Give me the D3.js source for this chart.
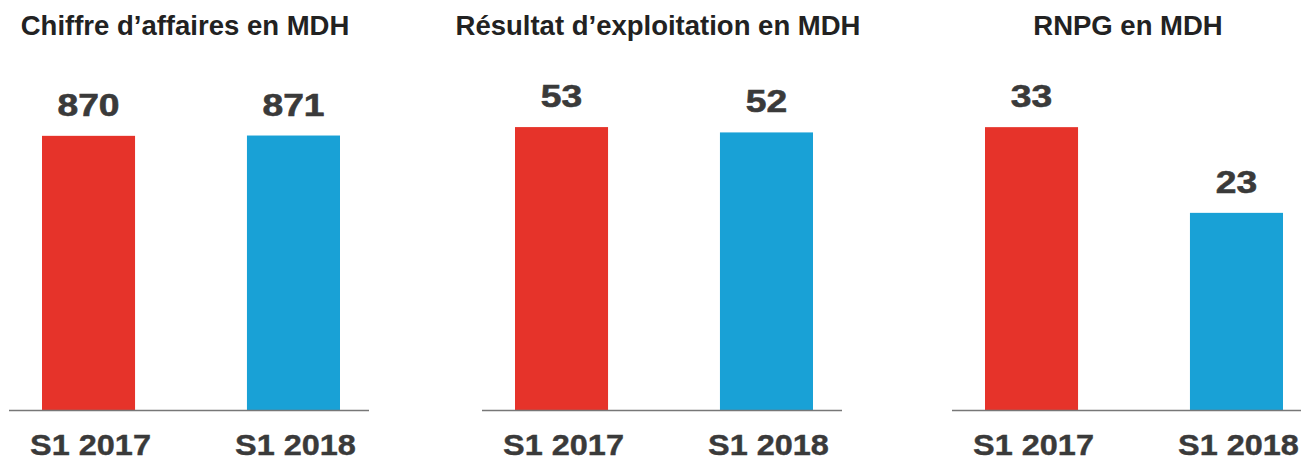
<!DOCTYPE html>
<html>
<head>
<meta charset="utf-8">
<script src="https://cdn.jsdelivr.net/npm/d3@7"></script>
<style>
  body { margin: 0; background: #fff; }
  text { font-family: "Liberation Sans", Arial, sans-serif; font-weight: bold; }
</style>
</head>
<body>
<script>
// data
const titles = ["Chiffre d\u2019affaires en MDH", "R\u00e9sultat d\u2019exploitation en MDH", "RNPG en MDH"];
const periods = ["S1 2017", "S1 2018"];
const values2017 = [870, 53, 33];
const values2018 = [871, 52, 23];
const scaleMax = [952, 56.2, 35];   // top of each panel's value scale
const colors = ["#e6332a", "#19a1d6"];

const width = 1301;
const height = 461;
const panelX = [9, 482, 952];
const panelW = 360;
const baseY = 410;

var svg = d3.select("body").append("svg")
    .attr("width", width)
    .attr("height", height);

var xscale = d3.scaleBand()
    .domain(periods)
    .range([33, 331])
    .paddingInner(0.546);

titles.forEach( (title, i) => {
    const vals = [values2017[i], values2018[i]];
    const data = periods.map( (p, j) => ({ period: p, value: vals[j] }) );

    var yscale = d3.scaleLinear()
        .domain([0, scaleMax[i]])
        .range([baseY, 110]);

    var g = svg.append("g")
        .attr("transform", "translate(" + panelX[i] + ",0)");

    g.append("text")
        .attr("x", panelW / 2 - 4)
        .attr("y", 35)
        .attr("text-anchor", "middle")
        .attr("font-size", 27.5)
        .attr("fill", "#222")
        .text(title);

    g.selectAll("rect")
        .data(data)
        .join("rect")
        .attr("x", d => xscale(d.period))
        .attr("y", d => yscale(d.value))
        .attr("width", xscale.bandwidth())
        .attr("height", d => baseY - yscale(d.value))
        .attr("fill", (d, j) => colors[j]);

    g.append("line")
        .attr("x1", 0)
        .attr("x2", panelW)
        .attr("y1", baseY + 0.5)
        .attr("y2", baseY + 0.5)
        .attr("stroke", "#777")
        .attr("stroke-width", 1.5);

    // value labels
    g.selectAll("text.val")
        .data(data)
        .join("text")
        .attr("class", "val")
        .attr("text-anchor", "middle")
        .attr("font-size", 31)
        .attr("fill", "#3a3a3a")
        .attr("stroke", "#3a3a3a")
        .attr("stroke-width", 0.6)
        .attr("transform", d => "translate(" + (xscale(d.period) + xscale.bandwidth() / 2) + "," + (yscale(d.value) - 20) + ") scale(1.2,1)")
        .text(d => d.value);

    // category labels
    g.selectAll("text.cat")
        .data(data)
        .join("text")
        .attr("class", "cat")
        .attr("text-anchor", "middle")
        .attr("font-size", 29.5)
        .attr("fill", "#3a3a3a")
        .attr("stroke", "#3a3a3a")
        .attr("stroke-width", 0.4)
        .attr("transform", d => "translate(" + (xscale(d.period) + xscale.bandwidth() / 2 + 2) + ",455) scale(1.1,1)")
        .text(d => d.period);
});
</script>
</body>
</html>
